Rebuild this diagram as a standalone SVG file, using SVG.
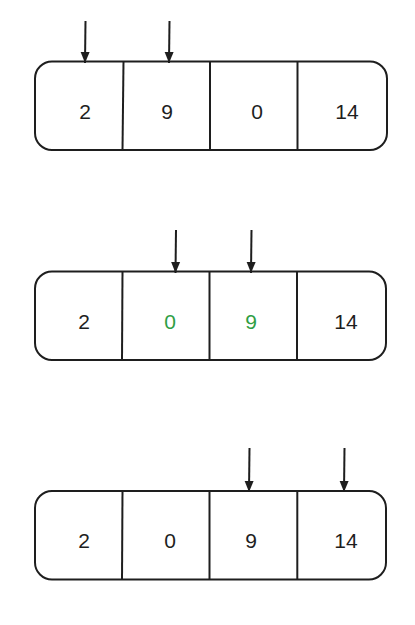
<svg xmlns="http://www.w3.org/2000/svg" width="415" height="625" viewBox="0 0 415 625">
<style>
.box{fill:none;stroke:#1e1e1e;stroke-width:2}
.div{stroke:#1e1e1e;stroke-width:2}
.t{font-family:"Liberation Sans",Arial,sans-serif;font-size:21px;fill:#1e1e1e;text-anchor:middle}
.g{fill:#2f9e44}
.arr{stroke:#1e1e1e;stroke-width:2;fill:none;marker-end:url(#ah)}
</style>
<defs>
<marker id="ah" markerWidth="12" markerHeight="10" refX="11" refY="5" orient="auto" markerUnits="userSpaceOnUse" viewBox="0 0 12 10">
<path d="M0,0.5 L11,5 L0,9.5 Z" fill="#1e1e1e"/>
</marker>
</defs>
<rect width="415" height="625" fill="#ffffff"/>
<g id="array1">
<rect class="box" x="35" y="61.5" width="352" height="88.5" rx="17"/>
<line class="div" x1="123.5" y1="61.5" x2="122.5" y2="150"/>
<line class="div" x1="210" y1="61.5" x2="210" y2="150"/>
<line class="div" x1="297.5" y1="61.5" x2="297.5" y2="150"/>
<text class="t" x="85" y="119">2</text>
<text class="t" x="167" y="119">9</text>
<text class="t" x="257" y="119">0</text>
<text class="t" x="347" y="119">14</text>
</g>
<g id="array2">
<rect class="box" x="35" y="271.5" width="351" height="88.5" rx="17"/>
<line class="div" x1="122.5" y1="271.5" x2="122" y2="360"/>
<line class="div" x1="209.5" y1="271.5" x2="209.5" y2="360"/>
<line class="div" x1="297" y1="271.5" x2="297" y2="360"/>
<text class="t" x="84" y="329">2</text>
<text class="t g" x="170" y="329">0</text>
<text class="t g" x="251" y="329">9</text>
<text class="t" x="346" y="329">14</text>
</g>
<g id="array3">
<rect class="box" x="35" y="491" width="351" height="88.5" rx="17"/>
<line class="div" x1="122.5" y1="491" x2="122" y2="579.5"/>
<line class="div" x1="209.5" y1="491" x2="209.5" y2="579.5"/>
<line class="div" x1="297.3" y1="491" x2="297.3" y2="579.5"/>
<text class="t" x="84" y="548">2</text>
<text class="t" x="170" y="548">0</text>
<text class="t" x="251" y="548">9</text>
<text class="t" x="346" y="548">14</text>
</g>
<g id="connectors">
<line class="arr" x1="85.5" y1="21" x2="85" y2="63"/>
<line class="arr" x1="169.5" y1="21" x2="169" y2="63"/>
<line class="arr" x1="176" y1="230" x2="175.5" y2="273"/>
<line class="arr" x1="251.5" y1="230" x2="251" y2="273"/>
<line class="arr" x1="249.5" y1="448" x2="249" y2="492"/>
<line class="arr" x1="344.5" y1="448" x2="344" y2="492"/>
</g>
</svg>
